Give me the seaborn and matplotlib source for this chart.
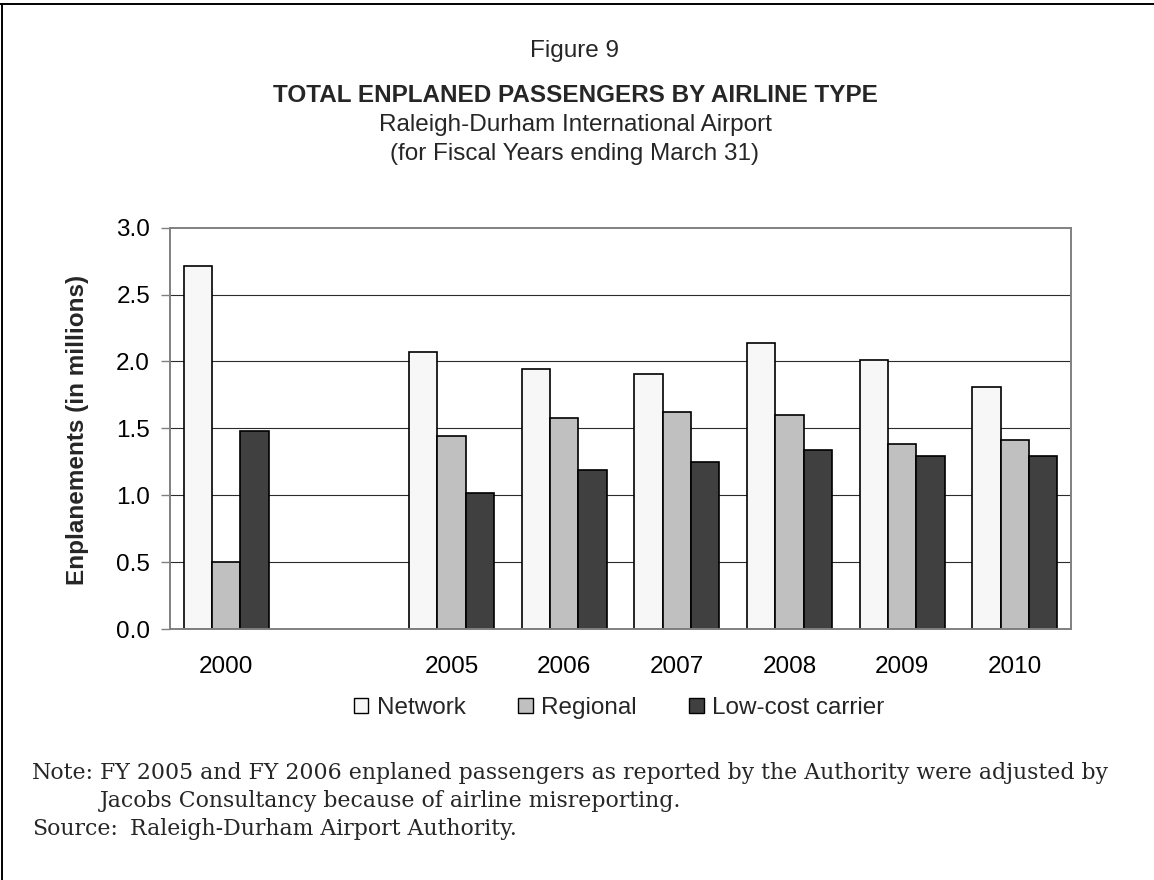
import matplotlib
matplotlib.use("Agg")
import matplotlib.pyplot as plt
from matplotlib.lines import Line2D
from matplotlib.ticker import FormatStrFormatter
import numpy as np
import pandas as pd
import seaborn as sns

# Enplaned passengers (millions) by airline type, fiscal years ending March 31
years = ["2000", "2005", "2006", "2007", "2008", "2009", "2010"]
network = [2.71, 2.07, 1.94, 1.91, 2.14, 2.01, 1.81]
regional = [0.50, 1.44, 1.58, 1.62, 1.60, 1.38, 1.41]
low_cost = [1.48, 1.02, 1.19, 1.25, 1.34, 1.29, 1.29]

airline_types = ["Network", "Regional", "Low-cost carrier"]
type_colors = ["#F7F7F7", "#C0C0C0", "#404040"]

# blank slot separates 2000 from the 2005-2010 run
year_order = ["2000", " ", "2005", "2006", "2007", "2008", "2009", "2010"]
y_ticks = [0.0, 0.5, 1.0, 1.5, 2.0, 2.5, 3.0]

df = pd.DataFrame({
    "year": years * 3,
    "type": [airline_types[0]] * len(years)
            + [airline_types[1]] * len(years)
            + [airline_types[2]] * len(years),
    "value": network + regional + low_cost,
})

sns.set_theme(style="white")
plt.rcParams["font.family"] = ["Liberation Sans", "DejaVu Sans"]

W, H, DPI = 1154, 880, 100
fig = plt.figure(figsize=(W / DPI, H / DPI), dpi=DPI)
fig.patch.set_facecolor("white")

L, R, T, B = 170, 1071, 227.7, 629
ax = fig.add_axes([L / W, 1 - B / H, (R - L) / W, (B - T) / H])

sns.barplot(
    data=df, x="year", y="value", hue="type",
    order=year_order, hue_order=airline_types,
    palette=type_colors, saturation=1, width=0.755,
    edgecolor="black", linewidth=1.2, errorbar=None, ax=ax,
)

FS = 17.5
ax.set_ylim(0, 3.0)
ax.set_yticks(y_ticks)
ax.yaxis.set_major_formatter(FormatStrFormatter("%.1f"))
ax.set_xlabel("")
ax.set_ylabel("")
ax.grid(False)
for v in y_ticks[1:-1]:
    ax.axhline(v, color="#2b2b2b", lw=0.8, zorder=0)
ax.set_axisbelow(True)

for s in ax.spines.values():
    s.set_visible(True)
    s.set_color("#808080")
    s.set_linewidth(1.4)

ax.tick_params(axis="y", which="major", left=True, length=6.5, width=1.0,
               color="#808080", pad=7.9, labelsize=FS, labelcolor="black")
ax.tick_params(axis="x", which="major", bottom=False, length=0, pad=19.5,
               labelsize=FS, labelcolor="black")

if ax.get_legend() is not None:
    ax.get_legend().remove()

handles = [plt.Rectangle((0, 0), 1, 1, facecolor=c, edgecolor="black", linewidth=1.0)
           for c in type_colors]
fig.legend(handles, airline_types, loc="center", bbox_to_anchor=(619 / W, 1 - 708 / H),
           ncol=3, frameon=False, fontsize=FS, handlelength=0.6, handleheight=0.6,
           handletextpad=0.35, columnspacing=2.15, borderpad=0, borderaxespad=0)

# y-axis title
fig.text(78 / W, 1 - 429.5 / H, "Enplanements (in millions)", rotation=90,
         ha="center", va="center", fontsize=FS, fontweight="bold")

# heading block
cx = 575 / W
fig.text(cx, 1 - 57.5 / H, "Figure 9", ha="center", va="baseline", fontsize=FS)
fig.text(cx, 1 - 101.7 / H, "TOTAL ENPLANED PASSENGERS BY AIRLINE TYPE",
         ha="center", va="baseline", fontsize=FS, fontweight="bold")
fig.text(cx, 1 - 130.7 / H, "Raleigh-Durham International Airport",
         ha="center", va="baseline", fontsize=FS)
fig.text(cx, 1 - 160 / H, "(for Fiscal Years ending March 31)",
         ha="center", va="baseline", fontsize=FS)

# footnotes: size the serif text so the first note line spans its column
serif = ["DejaVu Serif"]
renderer = fig.canvas.get_renderer()
note_line1 = fig.text(100 / W, 1 - 779.3 / H,
                      "FY 2005 and FY 2006 enplaned passengers as reported by the Authority were adjusted by",
                      ha="left", va="baseline", fontsize=16, family=serif)
span = note_line1.get_window_extent(renderer).width
NFS = 16 * (1110 - 100) / span
note_line1.set_fontsize(NFS)

fig.text(31.7 / W, 1 - 779.3 / H, "Note:", ha="left", va="baseline",
         fontsize=NFS, family=serif)
fig.text(100 / W, 1 - 806.7 / H, "Jacobs Consultancy because of airline misreporting.",
         ha="left", va="baseline", fontsize=NFS, family=serif)
src_label = fig.text(31.7 / W, 1 - 835 / H, "Source:", ha="left", va="baseline",
                     fontsize=NFS, family=serif)
src_end = src_label.get_window_extent(renderer).x1
fig.text(max(111.7, src_end + 12) / W, 1 - 835 / H, "Raleigh-Durham Airport Authority.",
         ha="left", va="baseline", fontsize=NFS, family=serif)

# page frame (top and left rules)
fig.add_artist(Line2D([0, 1], [1 - 4 / H, 1 - 4 / H], transform=fig.transFigure,
                      color="black", lw=1.4))
fig.add_artist(Line2D([1.7 / W, 1.7 / W], [0, 1 - 4 / H], transform=fig.transFigure,
                      color="black", lw=1.4))

fig.savefig("out.png", dpi=DPI, facecolor="white")
